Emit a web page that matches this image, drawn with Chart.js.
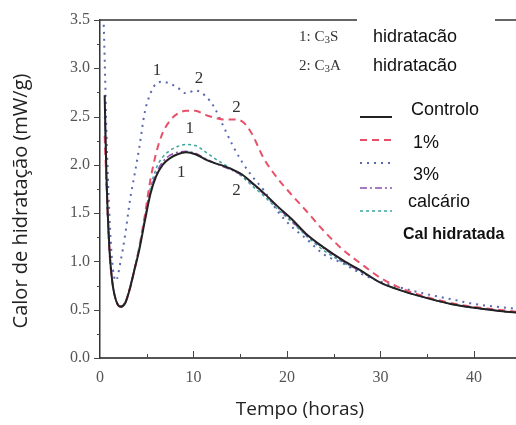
<!DOCTYPE html>
<html>
<head>
<meta charset="utf-8">
<script src="https://cdn.jsdelivr.net/npm/chart.js@4.4.1/dist/chart.umd.min.js"></script>
<style>
  html, body { margin: 0; padding: 0; background: #fff; }
  #wrap { width: 516px; height: 425px; position: relative; }
</style>
</head>
<body>
<div id="wrap"><canvas id="heatChart" width="516" height="425"></canvas></div>
<script>
// tempo (horas)
const tempo = [0.4, 0.5, 0.7, 1.0, 1.3, 1.7, 2.2, 2.7, 3.2, 3.7, 4.2, 4.8, 5.4, 6.0, 6.7, 7.5, 8.3, 9.2, 10.2, 11.2,
  12.2, 13.2, 14.2, 15.2, 16.2, 17.5, 19, 20.5, 22, 24, 26, 28, 30, 32.5, 35, 37.5, 40, 42.5, 44.5];

// fluxo de calor (mW/g) por mistura
const controlo = [null, 2.72, 1.85, 1.15, 0.80, 0.60, 0.53, 0.57, 0.72, 0.92, 1.12, 1.42, 1.70, 1.88, 2.00, 2.07, 2.11, 2.13, 2.11, 2.06,
  2.02, 1.99, 1.95, 1.90, 1.82, 1.71, 1.57, 1.44, 1.29, 1.14, 1.01, 0.90, 0.78, 0.69, 0.62, 0.56, 0.52, 0.49, 0.47];
const pct1 = [null, 2.30, 1.80, 1.12, 0.80, 0.60, 0.53, 0.57, 0.72, 0.92, 1.15, 1.48, 1.85, 2.12, 2.33, 2.46, 2.53, 2.56, 2.56, 2.52,
  2.49, 2.47, 2.47, 2.45, 2.33, 2.07, 1.86, 1.69, 1.53, 1.31, 1.12, 0.97, 0.83, 0.71, 0.63, 0.57, 0.53, 0.50, 0.48];
const pct3 = [3.45, 3.10, 2.30, 1.50, 1.00, 0.80, 1.00, 1.28, 1.63, 1.90, 2.18, 2.55, 2.74, 2.84, 2.86, 2.84, 2.80, 2.74, 2.77, 2.72,
  2.60, 2.40, 2.20, 2.03, 1.89, 1.74, 1.52, 1.36, 1.24, 1.07, 0.98, 0.87, 0.79, 0.72, 0.66, 0.61, 0.56, 0.53, 0.51];
const calcario = [null, 2.60, 1.80, 1.12, 0.80, 0.60, 0.54, 0.58, 0.73, 0.93, 1.14, 1.44, 1.73, 1.91, 2.03, 2.10, 2.13, 2.14, 2.12, 2.07,
  2.02, 1.98, 1.94, 1.89, 1.81, 1.70, 1.56, 1.42, 1.28, 1.13, 1.00, 0.89, 0.78, 0.69, 0.62, 0.56, 0.52, 0.49, 0.47];
const calHidratada = [null, 2.50, 1.75, 1.10, 0.80, 0.60, 0.54, 0.58, 0.73, 0.93, 1.14, 1.46, 1.76, 1.96, 2.08, 2.15, 2.19, 2.21, 2.20, 2.14,
  2.07, 2.01, 1.95, 1.88, 1.79, 1.68, 1.54, 1.41, 1.27, 1.11, 0.99, 0.89, 0.78, 0.69, 0.62, 0.56, 0.52, 0.49, 0.47];

// marcas 1 (C3S) e 2 (C3A) sobre as curvas: [tempo, valor, texto]
const picos = [
  [6.1, 2.98, '1'], [10.6, 2.89, '2'], [14.6, 2.59, '2'],
  [9.6, 2.38, '1'], [8.7, 1.92, '1'], [14.6, 1.73, '2']
];

const yTicks = [0, 0.5, 1.0, 1.5, 2.0, 2.5, 3.0, 3.5];
const xTicks = [0, 10, 20, 30, 40];

const serie = (label, data, color, dash, width) => ({
  label,
  data: tempo.map((t, i) => ({ x: t, y: data[i] })),
  borderColor: color,
  borderDash: dash,
  borderWidth: width,
  pointRadius: 0,
  cubicInterpolationMode: 'monotone',
  fill: false,
  spanGaps: false
});

// legenda e anotações desenhadas à mão
const extras = {
  id: 'extras',
  afterDraw(chart) {
    const { ctx, scales: { x, y } } = chart;
    ctx.save();

    // linha superior da moldura
    ctx.strokeStyle = '#333';
    ctx.lineWidth = 1.5;
    ctx.beginPath();
    ctx.moveTo(100, 20); ctx.lineTo(357, 20);
    ctx.moveTo(495, 20); ctx.lineTo(516, 20);
    ctx.stroke();

    // marcas dos eixos
    ctx.strokeStyle = '#444';
    ctx.lineWidth = 1;
    ctx.beginPath();
    for (let v = 0; v <= 3.5001; v += 0.25) {
      const py = Math.round(y.getPixelForValue(v)) + 0.5;
      const major = Math.abs(v * 2 - Math.round(v * 2)) < 1e-6;
      ctx.moveTo(100, py); ctx.lineTo(major ? 94 : 97, py);
    }
    for (let v = 5; v <= 44; v += 5) {
      const px = Math.round(x.getPixelForValue(v)) + 0.5;
      const major = v % 10 === 0;
      ctx.moveTo(px, 358); ctx.lineTo(px, major ? 351 : 354);
    }
    ctx.stroke();

    // títulos dos eixos
    ctx.fillStyle = '#222';
    ctx.font = '19px "Open Sans"';
    ctx.textAlign = 'center';
    ctx.textBaseline = 'middle';
    ctx.fillText('Tempo (horas)', 300, 410);
    ctx.save();
    ctx.translate(21, 201);
    ctx.rotate(-Math.PI / 2);
    ctx.font = '20px "Open Sans"';
    ctx.fillText('Calor de hidratação (mW/g)', 0, 0);
    ctx.restore();

    // números 1/2 junto aos picos
    ctx.font = '17px "Liberation Serif"';
    ctx.fillStyle = '#333';
    picos.forEach(([t, v, s]) => {
      ctx.fillText(s, x.getPixelForValue(t), y.getPixelForValue(v));
    });

    // 1: C3S / 2: C3A
    const formula = (n, sub, yy) => {
      ctx.textAlign = 'left';
      ctx.font = '15px "Liberation Serif"';
      let px = 299;
      ctx.fillText(n + ': C', px, yy);
      px += ctx.measureText(n + ': C').width;
      ctx.font = '11px "Liberation Serif"';
      ctx.fillText('3', px, yy + 3);
      px += ctx.measureText('3').width;
      ctx.font = '15px "Liberation Serif"';
      ctx.fillText(sub, px, yy);
      ctx.font = '18px "Liberation Sans"';
      ctx.fillStyle = '#111';
      ctx.fillText('hidratacão', 373, yy);
      ctx.fillStyle = '#333';
    };
    formula('1', 'S', 37);
    formula('2', 'A', 66);

    // legenda das séries
    const itens = [
      ['Controlo', 110, 117, 411, '18px "Liberation Sans"'],
      ['1%', 143, 140, 413, '18px "Liberation Sans"'],
      ['3%', 175, 163, 413, '18px "Liberation Sans"'],
      ['calcário', 202, 188, 408, '18px "Liberation Sans"'],
      ['Cal hidratada', 235, 211, 403, 'bold 16px "Liberation Sans"']
    ];
    chart.data.datasets.forEach((ds, i) => {
      const [txt, ty, ly, tx, font] = itens[i];
      ctx.strokeStyle = ds.borderColor;
      ctx.lineWidth = ds.borderWidth;
      ctx.setLineDash(ds.borderDash || []);
      ctx.beginPath();
      ctx.moveTo(360, ly); ctx.lineTo(392, ly);
      ctx.stroke();
      ctx.setLineDash([]);
      ctx.font = font;
      ctx.fillStyle = '#111';
      ctx.fillText(txt, tx, ty);
    });
    ctx.restore();
  }
};

const ctx = document.getElementById('heatChart').getContext('2d');
new Chart(ctx, {
  type: 'line',
  data: {
    datasets: [
      serie('Controlo', controlo, '#222222', [], 2),
      serie('1%', pct1, '#e8506a', [7, 5], 2),
      serie('3%', pct3, '#5a68ad', [2, 5], 2),
      serie('calcário', calcario, '#8a4fb0', [7, 3, 2, 3], 1.5),
      serie('Cal hidratada', calHidratada, '#3aa59a', [3, 3], 1.5)
    ]
  },
  options: {
    responsive: false,
    animation: false,
    layout: { padding: { top: 20, right: 0, left: 0, bottom: 0 } },
    plugins: { legend: { display: false }, tooltip: { enabled: false } },
    scales: {
      x: {
        type: 'linear',
        min: 0,
        max: 44.5,
        afterFit: s => { s.height = 67; },
        afterBuildTicks: s => { s.ticks = xTicks.map(v => ({ value: v })); },
        grid: { display: false, drawTicks: false },
        border: { display: true, color: '#555', width: 2 },
        ticks: {
          padding: 10,
          color: '#555',
          font: { family: 'Liberation Serif', size: 16 },
          maxRotation: 0,
          callback: v => v
        }
      },
      y: {
        min: 0,
        max: 3.5,
        afterFit: s => { s.width = 100; },
        afterBuildTicks: s => { s.ticks = yTicks.map(v => ({ value: v })); },
        grid: { display: false, drawTicks: false },
        border: { display: true, color: '#333', width: 1.5 },
        ticks: {
          padding: 10,
          color: '#555',
          font: { family: 'Liberation Serif', size: 16 },
          callback: v => Number(v).toFixed(1)
        }
      }
    }
  },
  plugins: [extras]
});
</script>
</body>
</html>
